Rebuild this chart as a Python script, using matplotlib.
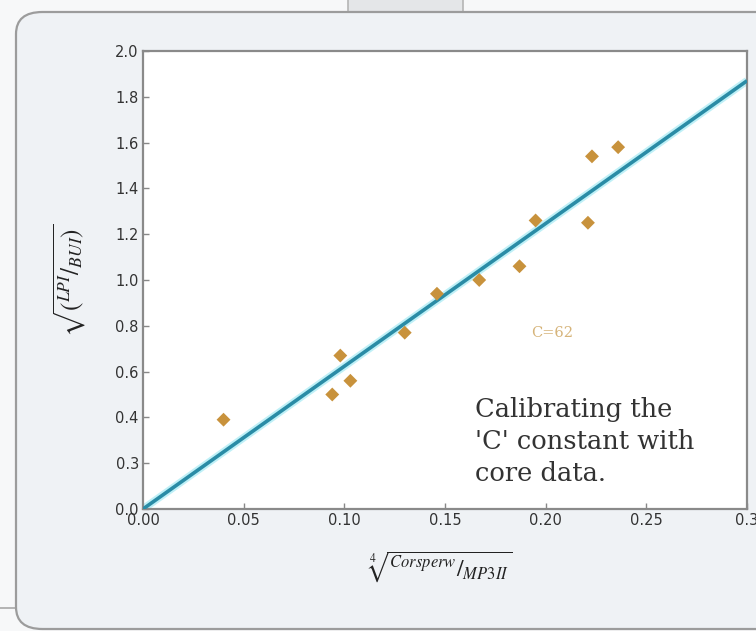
import matplotlib.pyplot as plt
from matplotlib.patches import FancyBboxPatch, Rectangle

# data (y in axis position units)
x_core = [0.040, 0.094, 0.098, 0.103, 0.130, 0.146, 0.167, 0.187, 0.195, 0.221, 0.223, 0.236]
y_core = [0.39, 0.50, 0.67, 0.56, 0.77, 0.94, 1.00, 1.06, 1.26, 1.25, 1.54, 1.58]

fit_x = [0.0, 0.3]
fit_y = [0.0, 1.87]

xticks = [0.0, 0.05, 0.10, 0.15, 0.20, 0.25, 0.30]
xtick_labels = ['0.00', '0.05', '0.10', '0.15', '0.20', '0.25', '0.3']
yticks = [0.0, 0.2, 0.4, 0.6, 0.8, 1.0, 1.2, 1.4, 1.6, 1.8, 2.0]
ytick_labels = ['0.0', '0.3', '0.4', '0.6', '0.8', '1.0', '1.2', '1.4', '1.6', '1.8', '2.0']

plt.rcParams['mathtext.fontset'] = 'stix'

fig = plt.figure(figsize=(7.56, 6.31), dpi=100)
fig.patch.set_facecolor('#f7f8f9')

# small tab peeking out above the panel
tab = Rectangle((348 / 756, 1 - 14 / 631), 115 / 756, 0.05, transform=fig.transFigure,
                facecolor='#e4e6e8', edgecolor='#b5b5b5', linewidth=1.2, zorder=-6)
fig.patches.append(tab)
fig.add_artist(plt.Line2D([405 / 756, 405 / 756], [1 - 14 / 631, 1], color='#b5b5b5',
                          linewidth=1.2, zorder=-6))
# bits of window frame at the bottom left
fig.add_artist(plt.Line2D([0, 16 / 756], [1 - 608 / 631, 1 - 608 / 631], color='#a8a8a8',
                          linewidth=1.2, zorder=-6))

# rounded panel behind the plot
panel = FancyBboxPatch((16 / 756, 2 / 631), 1.2, (631 - 12 - 2) / 631,
                       boxstyle='round,pad=0,rounding_size=0.035',
                       transform=fig.transFigure, facecolor='#eff2f5',
                       edgecolor='#9c9c9c', linewidth=1.6, zorder=-5)
fig.patches.append(panel)

ax = fig.add_axes([143 / 756, 1 - 509 / 631, (747 - 143) / 756, (509 - 51) / 631])
ax.set_zorder(2)
ax.set_facecolor('white')

# fitted line with a pale glow
ax.plot(fit_x, fit_y, color='#bff0f7', linewidth=5.5, solid_capstyle='butt', zorder=2)
ax.plot(fit_x, fit_y, color='#2a8ca6', linewidth=2.6, solid_capstyle='butt', zorder=3)

ax.scatter(x_core, y_core, marker='D', s=50, color='#c8923c', edgecolor='none', zorder=4)

ax.set_xlim(0, 0.3)
ax.set_ylim(0, 2.0)
ax.set_xticks(xticks)
ax.set_xticklabels(xtick_labels)
ax.set_yticks(yticks)
ax.set_yticklabels(ytick_labels)
ax.tick_params(direction='in', length=4, width=1, color='#888888',
               labelsize=10.5, labelcolor='#333333', pad=3)

for s in ax.spines.values():
    s.set_color('#8a8a8a')
    s.set_linewidth(1.6)

ax.text(0.193, 0.77, 'C=62', fontsize=10.5, color='#d6b47a', family='DejaVu Serif',
        va='center')
ax.text(0.165, 0.49, "Calibrating the\n'C' constant with\ncore data.",
        fontsize=18.5, color='#333333', family='DejaVu Serif', va='top',
        linespacing=1.36)

fig.text(440 / 756, 1 - 567 / 631, r'$\sqrt[4]{{}^{Corsperw}/_{MP3II}}$',
         fontsize=17, ha='center', va='center', color='#222222')
fig.text(70 / 756, 1 - 280 / 631, r'$\sqrt{\left({}^{LPI}/_{BUI}\right)}$',
         fontsize=18, ha='center', va='center', rotation=90, color='#222222')

fig.savefig('out.png', dpi=100, facecolor=fig.get_facecolor())
